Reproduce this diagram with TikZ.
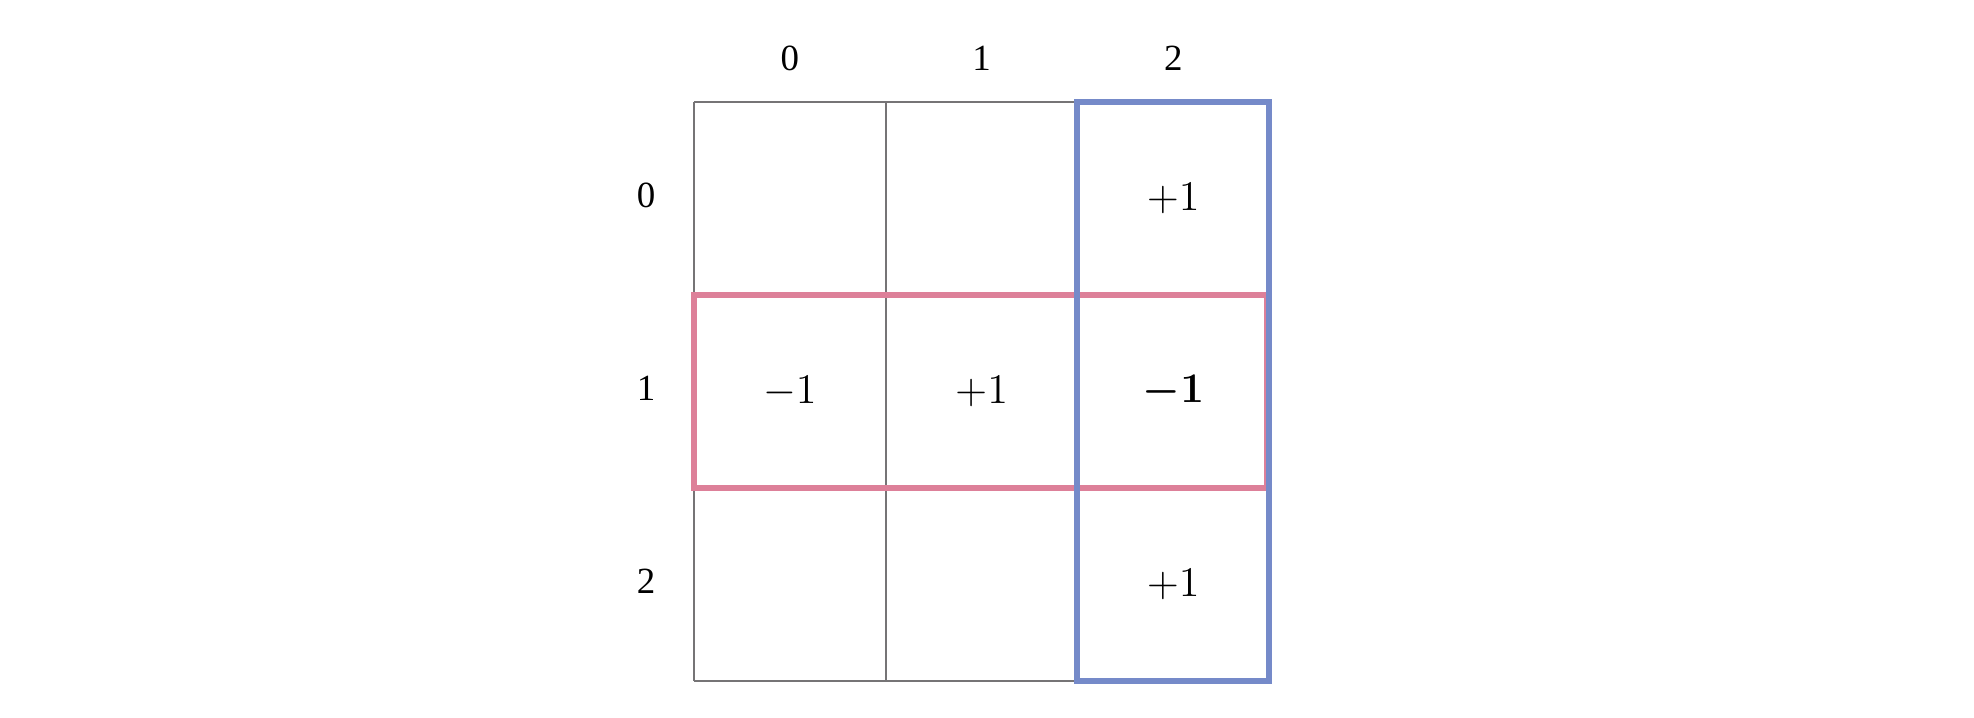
\documentclass[tikz,border=0pt]{standalone}
\usepackage{bm}
\usepackage{fontspec}
\setmainfont{Liberation Serif}
\tikzset{
  gridline/.style = {draw = gridgray, line width = 0.5pt},
  rowbox/.style = {draw = rowpink, line width = 1.7pt},
  colbox/.style = {draw = colblue, line width = 1.7pt},
  idxlabel/.style = {font = \fontsize{10.5}{12}\selectfont, inner sep = 0pt},
  cellval/.style = {font = \fontsize{13}{15}\selectfont, inner sep = 0pt}
}
\begin{document}
\begin{tikzpicture}[x = 0.01cm, y = -0.01cm]
\useasboundingbox (0,0) rectangle (1974,718);
\pgfmathsetmacro\ox{694};
\pgfmathsetmacro\oy{102};
\pgfmathsetmacro\cw{191.7};
\pgfmathsetmacro\ch{193};
\definecolor{gridgray}{RGB}{118,116,118}
\definecolor{rowpink}{RGB}{221,128,153}
\definecolor{colblue}{RGB}{117,138,201}
\foreach \n in {0,...,3} \draw [gridline] (\ox+\cw*\n,\oy) -- (\ox+\cw*\n,\oy+\ch*3);
\foreach \n in {0,...,3} \draw [gridline] (\ox,\oy+\ch*\n) -- (\ox+\cw*3,\oy+\ch*\n);
\foreach \n in {0,...,2} \node [idxlabel] (col\n) at (\ox+\cw*\n+\cw/2,58) {\n};
\foreach \n in {0,...,2} \node [idxlabel] (row\n) at (646,\oy+\ch*\n+\ch/2-3) {\n};
\node [cellval] (v02) at (\ox+\cw*2.5,\oy+\ch*0.5) {$+1$};
\node [cellval] (v10) at (\ox+\cw*0.5,\oy+\ch*1.5) {$-1$};
\node [cellval] (v11) at (\ox+\cw*1.5,\oy+\ch*1.5) {$+1$};
\node [cellval] (v12) at (\ox+\cw*2.5,\oy+\ch*1.5) {$\bm{-1}$};
\node [cellval] (v22) at (\ox+\cw*2.5,\oy+\ch*2.5) {$+1$};
\draw [rowbox] (\ox,\oy+\ch) rectangle (\ox+\cw*3-2,\oy+\ch*2);
\draw [colbox] (\ox+\cw*2,\oy) rectangle (\ox+\cw*3,\oy+\ch*3);
\end{tikzpicture}
\end{document}
